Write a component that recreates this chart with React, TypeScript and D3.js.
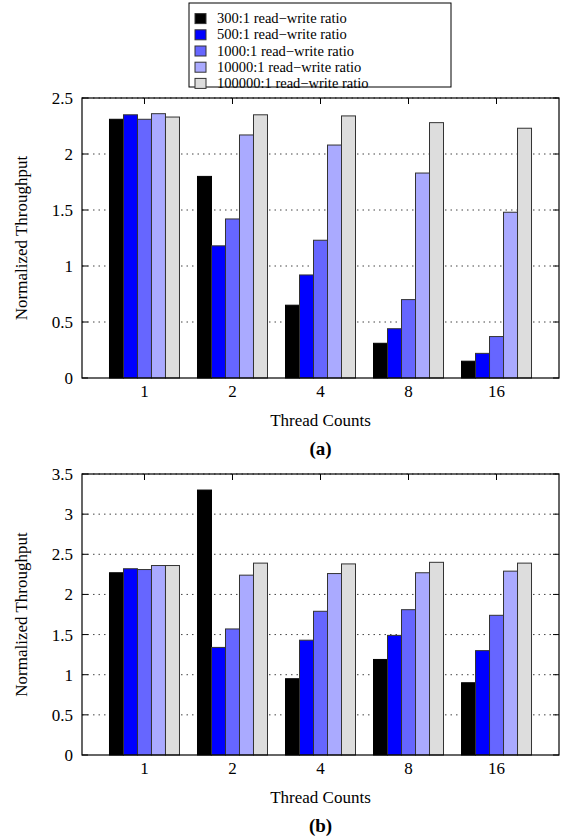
import React from "react";
import * as d3 from "d3";

const categories = ["1", "2", "4", "8", "16"];
const seriesNames = [
  "300:1 read\u2212write ratio",
  "500:1 read\u2212write ratio",
  "1000:1 read\u2212write ratio",
  "10000:1 read\u2212write ratio",
  "100000:1 read\u2212write ratio",
];
const seriesColors = ["#000000", "#0000ff", "#6666ff", "#aaaaff", "#dddddd"];

// Panel (a)
const a300 = [2.31, 1.8, 0.65, 0.31, 0.15];
const a500 = [2.35, 1.18, 0.92, 0.44, 0.22];
const a1000 = [2.31, 1.42, 1.23, 0.7, 0.37];
const a10000 = [2.36, 2.17, 2.08, 1.83, 1.48];
const a100000 = [2.33, 2.35, 2.34, 2.28, 2.23];
const ticksA = [0, 0.5, 1, 1.5, 2, 2.5];

// Panel (b)
const b300 = [2.27, 3.3, 0.95, 1.19, 0.9];
const b500 = [2.32, 1.34, 1.43, 1.49, 1.3];
const b1000 = [2.31, 1.57, 1.79, 1.81, 1.74];
const b10000 = [2.36, 2.24, 2.26, 2.27, 2.29];
const b100000 = [2.36, 2.39, 2.38, 2.4, 2.39];
const ticksB = [0, 0.5, 1, 1.5, 2, 2.5, 3, 3.5];

const FONT = "'Liberation Serif', Tinos, 'Times New Roman', 'DejaVu Serif', serif";

type PanelProps = {
  top: number;
  bottom: number;
  series: number[][];
  ticks: number[];
  label: string;
};

function Panel({ top, bottom, series, ticks, label }: PanelProps) {
  const left = 82;
  const right = 559;
  const yMax = ticks[ticks.length - 1];
  const y = d3.scaleLinear().domain([0, yMax]).range([bottom, top]);
  const x = d3.scalePoint<string>().domain(categories).range([left, right]).padding(0.71);
  const inner = d3
    .scaleBand<number>()
    .domain(d3.range(series.length))
    .range([-35, 35]);
  const fmt = (v: number) => (v === 0 ? "0" : String(v));
  return (
    <g>
      {ticks
        .filter((t) => t > 0)
        .map((t) => (
          <line
            key={"g" + t}
            x1={left}
            x2={right}
            y1={y(t)}
            y2={y(t)}
            stroke="#444"
            strokeWidth={1}
            strokeDasharray="1.5,4"
          />
        ))}
      {ticks.map((t) => (
        <g key={"t" + t}>
          <line x1={left} x2={left + 6} y1={y(t)} y2={y(t)} stroke="#000" />
          <line x1={right - 6} x2={right} y1={y(t)} y2={y(t)} stroke="#000" />
          <text
            x={left - 9}
            y={y(t)}
            dy="0.35em"
            textAnchor="end"
            fontFamily={FONT}
            fontSize={17}
          >
            {fmt(t)}
          </text>
        </g>
      ))}
      {categories.map((c) => (
        <g key={"x" + c}>
          <line x1={x(c)} x2={x(c)} y1={top} y2={top + 6} stroke="#000" />
          <line x1={x(c)} x2={x(c)} y1={bottom} y2={bottom - 6} stroke="#000" />
          <text
            x={x(c)}
            y={bottom + 19}
            textAnchor="middle"
            fontFamily={FONT}
            fontSize={17}
          >
            {c}
          </text>
        </g>
      ))}
      {series.map((s, si) =>
        s.map((v, ci) => {
          const cx = x(categories[ci]) as number;
          const bx = cx + (inner(si) as number);
          return (
            <rect
              key={si + "-" + ci}
              x={bx}
              y={y(v)}
              width={inner.bandwidth()}
              height={bottom - y(v)}
              fill={seriesColors[si]}
              stroke={si === 0 ? "#000" : "#333"}
              strokeWidth={1}
            />
          );
        })
      )}
      <rect
        x={left}
        y={top}
        width={right - left}
        height={bottom - top}
        fill="none"
        stroke="#000"
        strokeWidth={1.2}
      />
      <text
        transform={`translate(27,${(top + bottom) / 2}) rotate(-90)`}
        textAnchor="middle"
        fontFamily={FONT}
        fontSize={17}
      >
        Normalized Throughput
      </text>
      <text
        x={(left + right) / 2}
        y={bottom + 48}
        textAnchor="middle"
        fontFamily={FONT}
        fontSize={17}
      >
        Thread Counts
      </text>
      <text
        x={(left + right) / 2}
        y={bottom + 77}
        textAnchor="middle"
        fontFamily={FONT}
        fontSize={19}
        fontWeight="bold"
      >
        {label}
      </text>
    </g>
  );
}

function Legend() {
  const lx = 189;
  const ly = 3;
  const w = 262;
  const h = 84;
  const rowH = 16.2;
  return (
    <g>
      <rect x={lx} y={ly} width={w} height={h} fill="#fff" stroke="#000" strokeWidth={1} />
      {seriesNames.map((n, i) => {
        const cy = ly + 9.5 + rowH / 2 + i * rowH - 2;
        return (
          <g key={n}>
            <rect
              x={lx + 6}
              y={cy - 5}
              width={11}
              height={10}
              fill={seriesColors[i]}
              stroke="#333"
            />
            <text x={lx + 28} y={cy} dy="0.32em" fontFamily={FONT} fontSize={14.5}>
              {n}
            </text>
          </g>
        );
      })}
    </g>
  );
}

export default function App() {
  return (
    <svg
      width={566}
      height={840}
      style={{ position: "absolute", left: 0, top: 0, background: "#fff" }}
    >
      <rect width={566} height={840} fill="#fff" />
      <Panel
        top={98}
        bottom={378}
        series={[a300, a500, a1000, a10000, a100000]}
        ticks={ticksA}
        label="(a)"
      />
      <Panel
        top={474}
        bottom={755}
        series={[b300, b500, b1000, b10000, b100000]}
        ticks={ticksB}
        label="(b)"
      />
      <Legend />
    </svg>
  );
}
